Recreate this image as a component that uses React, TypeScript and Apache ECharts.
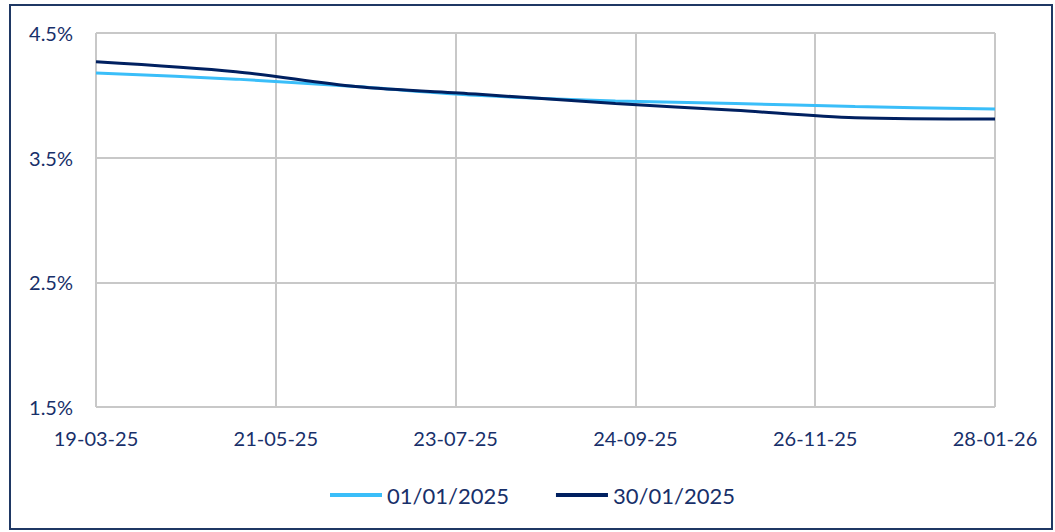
import React, { useEffect, useRef } from "react";
import * as echarts from "echarts";

const dates = ["2025-03-19", "2025-05-07", "2025-06-18", "2025-07-30", "2025-09-17", "2025-10-29", "2025-12-10", "2026-01-28"];
const curve0101 = [4.18, 4.13, 4.07, 4.0, 3.955, 3.935, 3.91, 3.89];
const curve3001 = [4.27, 4.19, 4.07, 4.01, 3.935, 3.88, 3.82, 3.81];
const seriesNames = ["01/01/2025", "30/01/2025"];
const startDate = "2025-03-19";
const endDate = "2026-01-28";
const tickStepDays = 63;

const DAY = 86400000;
const t0 = Date.parse(startDate + "T00:00:00Z");
const toDays = (d: string) => Math.round((Date.parse(d + "T00:00:00Z") - t0) / DAY);
const fmtDate = (days: number) => {
  const d = new Date(t0 + days * DAY);
  const dd = String(d.getUTCDate()).padStart(2, "0");
  const mm = String(d.getUTCMonth() + 1).padStart(2, "0");
  const yy = String(d.getUTCFullYear() % 100).padStart(2, "0");
  return `${dd}-${mm}-${yy}`;
};

const TEXT = "#18306A";
const FONT = "Lato";

export default function App() {
  const ref = useRef<HTMLDivElement>(null);
  useEffect(() => {
    if (!ref.current) return;
    const chart = echarts.init(ref.current, undefined, { renderer: "svg" });
    chart.setOption({
      animation: false,
      backgroundColor: "#ffffff",
      graphic: [
        {
          type: "rect",
          shape: { x: 10, y: 5, width: 1042, height: 524 },
          style: { fill: "none", stroke: "#1F3864", lineWidth: 2 },
          silent: true,
        },
      ],
      grid: { left: 96, right: 60, top: 33, bottom: 125 },
      xAxis: {
        type: "value",
        min: 0,
        max: toDays(endDate),
        interval: tickStepDays,
        axisLine: { show: false },
        axisTick: { show: false },
        splitLine: { show: true, lineStyle: { color: "#C8C8C8", width: 2 } },
        axisLabel: {
          formatter: (v: number) => fmtDate(v),
          color: TEXT,
          fontFamily: FONT,
          fontSize: 20,
          margin: 21,
        },
      },
      yAxis: {
        type: "value",
        min: 1.5,
        max: 4.5,
        interval: 1,
        axisLine: { show: false },
        axisTick: { show: false },
        splitLine: { show: true, lineStyle: { color: "#C8C8C8", width: 2 } },
        axisLabel: {
          formatter: (v: number) => v.toFixed(1) + "%",
          color: TEXT,
          fontFamily: FONT,
          fontSize: 20,
          margin: 23,
        },
      },
      legend: {
        left: 325,
        top: 479,
        icon: "rect",
        itemWidth: 52,
        itemHeight: 4,
        itemGap: 47,
        textStyle: { color: TEXT, fontFamily: FONT, fontSize: 22 },
        data: seriesNames,
      },
      series: [
        {
          name: seriesNames[0],
          type: "line",
          smooth: 0.3,
          showSymbol: false,
          symbol: "none",
          lineStyle: { color: "#3ABEF9", width: 3 },
          itemStyle: { color: "#3ABEF9" },
          data: dates.map((d, i) => [toDays(d), curve0101[i]]),
        },
        {
          name: seriesNames[1],
          type: "line",
          smooth: 0.3,
          showSymbol: false,
          symbol: "none",
          lineStyle: { color: "#002060", width: 3 },
          itemStyle: { color: "#002060" },
          data: dates.map((d, i) => [toDays(d), curve3001[i]]),
        },
      ],
    });
    return () => chart.dispose();
  }, []);
  return (
    <div
      ref={ref}
      style={{ position: "absolute", left: 0, top: 0, width: 1055, height: 532 }}
    />
  );
}
